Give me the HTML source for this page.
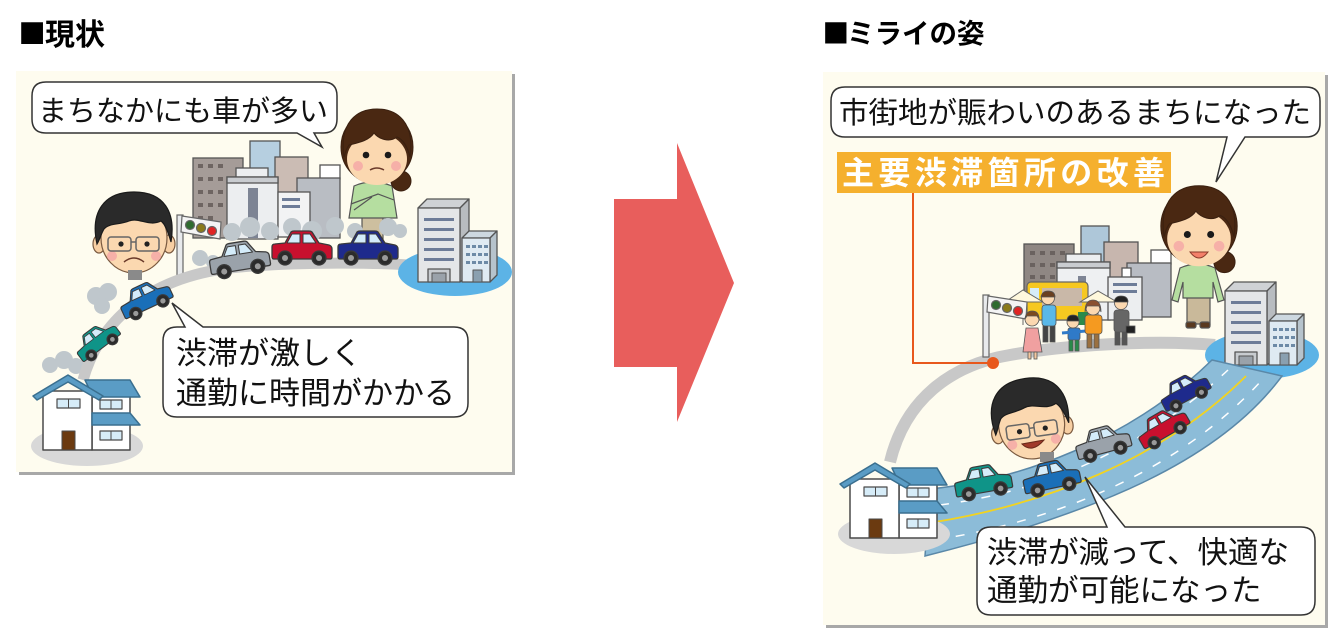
<!DOCTYPE html>
<html><head><meta charset="utf-8">
<style>
html,body{margin:0;padding:0;background:#fff;}
svg{display:block;}
text{font-family:"Liberation Sans","Noto Sans CJK JP",sans-serif;}
</style></head><body>
<svg width="1331" height="631" viewBox="0 0 1331 631" xmlns="http://www.w3.org/2000/svg" xmlns:xlink="http://www.w3.org/1999/xlink">
<defs>
 <g id="car" stroke="#3a3a3a" stroke-width="1.3" stroke-linejoin="round">
  <path d="M3,14 L13,13 L19,2 Q20,1 22,1 L37,1 Q39,1 40,2 L47,13 L57,15 Q60,16 60,19 L60,27 Q60,29 58,29 L2,29 Q0,29 0,27 L0,17 Q0,14 3,14 Z"/>
  <path d="M15,13 L20,4 L28,4 L28,13 Z M31,4 L38,4 L44,13 L31,13 Z" fill="#d4ecfa" stroke-width="1"/>
  <circle cx="13" cy="28" r="7" fill="#2b2b2b"/><circle cx="13" cy="28" r="3" fill="#9a9a9a" stroke="none"/>
  <circle cx="47" cy="28" r="7" fill="#2b2b2b"/><circle cx="47" cy="28" r="3" fill="#9a9a9a" stroke="none"/>
 </g>
 <g id="house" stroke="#4a4a4a" stroke-width="1.5" stroke-linejoin="round">
  <ellipse cx="54" cy="70" rx="56" ry="20" fill="#d8d8d8" stroke="none"/>
  <rect x="59" y="20" width="38" height="54" fill="#fff"/>
  <rect x="10" y="15" width="49" height="59" fill="#fff"/>
  <polygon points="52,4 97,4 107,21 60,21" fill="#5a9cc5" stroke="#3a6f8f"/>
  <polygon points="0,20 35,-1 70,20 66,24 35,6 4,24" fill="#5a9cc5" stroke="#3a6f8f"/>
  <polygon points="59,37 97,37 107,49 59,49" fill="#5a9cc5" stroke="#3a6f8f"/>
  <rect x="24" y="23" width="23" height="9" fill="#d6ecf8" stroke-width="1.2"/>
  <line x1="35.5" y1="23" x2="35.5" y2="32" stroke-width="1"/>
  <rect x="67" y="24" width="22" height="9" fill="#d6ecf8" stroke-width="1.2"/>
  <line x1="78" y1="24" x2="78" y2="33" stroke-width="1"/>
  <rect x="67" y="55" width="22" height="9" fill="#d6ecf8" stroke-width="1.2"/>
  <line x1="78" y1="55" x2="78" y2="64" stroke-width="1"/>
  <rect x="29" y="55" width="13" height="19" fill="#6b3a10" stroke-width="1"/>
 </g>
 <g id="bldg" stroke="#555" stroke-width="1.3" stroke-linejoin="round">
  <ellipse cx="37" cy="74" rx="57" ry="24" fill="#5cb3e6" stroke="none"/>
  <polygon points="0,10 9,1 51,1 42,10" fill="#cfd2d5"/>
  <polygon points="42,10 51,1 51,76 42,84" fill="#b8bcc0"/>
  <rect x="0" y="10" width="42" height="74" fill="#e4e6e8"/>
  <g fill="#6d7c98" stroke="none">
   <rect x="6" y="20" width="30" height="3"/><rect x="6" y="30" width="30" height="3"/>
   <rect x="6" y="40" width="30" height="3"/><rect x="6" y="50" width="30" height="3"/>
   <rect x="6" y="60" width="30" height="3"/>
  </g>
  <rect x="10" y="71" width="22" height="13" fill="#c8ccd0"/>
  <rect x="14" y="75" width="14" height="9" fill="#9aa2aa" stroke-width="1"/>
  <polygon points="44,40 51,33 79,33 72,40" fill="#cdd8e0"/>
  <polygon points="72,40 79,33 79,77 72,84" fill="#b6c3cc"/>
  <rect x="44" y="40" width="28" height="44" fill="#dfeaf2"/>
  <g fill="#6d8aa6" stroke="none">
   <rect x="48" y="47" width="4" height="3"/><rect x="54" y="47" width="4" height="3"/><rect x="60" y="47" width="4" height="3"/><rect x="66" y="47" width="4" height="3"/>
   <rect x="48" y="55" width="4" height="3"/><rect x="54" y="55" width="4" height="3"/><rect x="60" y="55" width="4" height="3"/><rect x="66" y="55" width="4" height="3"/>
   <rect x="48" y="63" width="4" height="3"/><rect x="54" y="63" width="4" height="3"/><rect x="60" y="63" width="4" height="3"/><rect x="66" y="63" width="4" height="3"/>
  </g>
  <rect x="55" y="72" width="9" height="12" fill="#8aa0b0" stroke-width="1"/>
 </g>
 <g id="tl" stroke="#666" stroke-width="1.2">
  <rect x="0" y="0" width="6" height="62" fill="#e8eaec"/>
  <polygon points="5,1 44,7 43,24 4,17" fill="#f4f4f4"/>
  <circle cx="13" cy="10" r="4.5" fill="#2f6b2f"/>
  <circle cx="24" cy="13" r="4.5" fill="#8a7a1a"/>
  <circle cx="35" cy="16" r="4.5" fill="#e02424"/>
 </g>
 <g id="manhead" stroke="#7a5a40" stroke-width="1.2">
  <ellipse cx="-35" cy="10" rx="6" ry="9" fill="#f7cfa3"/>
  <ellipse cx="35" cy="10" rx="6" ry="9" fill="#f7cfa3"/>
  <ellipse cx="0" cy="4" rx="33" ry="35" fill="#fbd8b0"/>
  <path d="M-37,10 C-44,-22 -30,-42 0,-42 C30,-42 42,-22 37,8 C34,-3 31,-10 27,-13 C15,-7 5,-17 -5,-13 C-15,-9 -25,-11 -30,-5 C-33,0 -34,5 -37,10 Z" fill="#2a2a2a" stroke="#1a1a1a"/>
  <circle cx="-22" cy="22" r="5" fill="#f6b0a8" stroke="none"/>
  <circle cx="22" cy="22" r="5" fill="#f6b0a8" stroke="none"/>
  <rect x="-26" y="3" width="23" height="14" rx="3" fill="none" stroke="#666" stroke-width="1.5"/>
  <rect x="2" y="3" width="23" height="14" rx="3" fill="none" stroke="#666" stroke-width="1.5"/>
  <line x1="-3" y1="8" x2="2" y2="8" stroke="#666" stroke-width="1.5"/>
  <circle cx="-13" cy="10" r="2.6" fill="#222" stroke="none"/>
  <circle cx="13" cy="10" r="2.6" fill="#222" stroke="none"/>
 </g>
 <g id="womanhead" stroke="#3a2010" stroke-width="1">
  <circle cx="24" cy="34" r="10" fill="#4a2812"/>
  <ellipse cx="0" cy="0" rx="36" ry="37" fill="#4a2812"/>
  <ellipse cx="0" cy="12" rx="30" ry="26" fill="#fbd8b0" stroke="none"/>
  <path d="M-33,10 C-38,-25 -20,-38 0,-38 C20,-38 38,-25 33,10 C30,-2 25,-8 20,-10 C12,-4 2,-8 -3,-14 C-8,-6 -20,-4 -28,-2 C-31,2 -32,6 -33,10 Z" fill="#4a2812"/>
  <circle cx="-11" cy="8" r="3.3" fill="#1a1a1a" stroke="none"/>
  <circle cx="11" cy="8" r="3.3" fill="#1a1a1a" stroke="none"/>
  <circle cx="-19" cy="19" r="5" fill="#f6b0a8" stroke="none"/>
  <circle cx="19" cy="19" r="5" fill="#f6b0a8" stroke="none"/>
 </g>
</defs>

<!-- Titles -->
<text x="18.5" y="46.5" font-size="45" font-weight="bold" fill="#000">■</text>
<text x="45" y="45" font-size="30" font-weight="bold" fill="#000">現状</text>
<text x="822.5" y="46" font-size="44" font-weight="bold" fill="#000">■</text>
<text x="847" y="43" font-size="27.5" font-weight="bold" fill="#000">ミライの姿</text>

<!-- ===== LEFT PANEL ===== -->
<rect x="19" y="74" width="496" height="401" fill="#a8a8a8"/>
<rect x="16" y="71" width="496" height="401" fill="#fefcef"/>

<!-- buildings cluster -->
<g stroke="#555" stroke-width="1.3">
 <rect x="250" y="141" width="30" height="60" fill="#b6cfe0"/>
 <rect x="275" y="157" width="33" height="50" fill="#cbbcb4"/>
 <rect x="193" y="158" width="50" height="80" fill="#a59c98"/>
 <rect x="320" y="165" width="20" height="14" fill="#fff"/>
 <rect x="297" y="178" width="43" height="60" fill="#b9bdc3"/>
 <rect x="236" y="168" width="32" height="10" fill="#eceef0"/>
 <rect x="227" y="177" width="51" height="62" fill="#eceef0"/>
 <rect x="227" y="177" width="51" height="6" fill="#c9ccd0"/>
 <rect x="278" y="192" width="32" height="45" fill="#f2f3f4"/>
</g>
<g fill="#6e6562">
 <rect x="198" y="164" width="5" height="4"/><rect x="208" y="164" width="5" height="4"/><rect x="218" y="164" width="5" height="4"/>
 <rect x="198" y="177" width="5" height="4"/><rect x="208" y="177" width="5" height="4"/><rect x="218" y="177" width="5" height="4"/>
 <rect x="198" y="190" width="5" height="4"/><rect x="208" y="190" width="5" height="4"/><rect x="218" y="190" width="5" height="4"/>
 <rect x="198" y="203" width="5" height="4"/><rect x="208" y="203" width="5" height="4"/><rect x="218" y="203" width="5" height="4"/>
 <rect x="198" y="216" width="5" height="4"/><rect x="208" y="216" width="5" height="4"/>
</g>
<rect x="248" y="188" width="10" height="50" fill="#7d8494"/>
<rect x="282" y="198" width="18" height="3" fill="#6d7c98"/>
<rect x="282" y="205" width="18" height="3" fill="#6d7c98"/>

<!-- woman left -->
<g stroke="#555" stroke-width="1.2">
 <rect x="362" y="214" width="21" height="28" fill="#cdbf9f"/>
 <path d="M354,186 Q372,178 392,186 L397,218 L349,218 Z" fill="#b5dea0"/>
 <path d="M351,204 L378,194 L394,200 M354,210 L372,197" fill="none"/>
</g>
<use href="#womanhead" transform="translate(377,147)"/>
<path d="M370,170 Q377,166 384,170" stroke="#6a3a2a" stroke-width="1.5" fill="none"/>

<!-- smoke -->
<g fill="#bfc7cc">
 <circle cx="232" cy="232" r="9"/><circle cx="250" cy="227" r="10"/><circle cx="270" cy="231" r="9"/>
 <circle cx="292" cy="227" r="9"/><circle cx="312" cy="231" r="10"/><circle cx="335" cy="226" r="9"/>
 <circle cx="355" cy="231" r="8"/><circle cx="388" cy="227" r="9"/><circle cx="400" cy="231" r="7"/>
 <circle cx="200" cy="258" r="8"/><circle cx="213" cy="262" r="7"/>
 <circle cx="96" cy="296" r="9"/><circle cx="108" cy="292" r="9"/><circle cx="102" cy="306" r="8"/>
 <circle cx="50" cy="365" r="8"/><circle cx="64" cy="360" r="9"/><circle cx="76" cy="366" r="8"/>
</g>

<!-- traffic light -->
<use href="#tl" transform="translate(177,215)"/>

<!-- road -->
<path d="M83,380 C100,320 150,275 240,267 C300,262 380,262 420,266" fill="none" stroke="#c8c8c8" stroke-width="11"/>

<!-- right buildings + ellipse -->
<use href="#bldg" transform="translate(418,198)"/>

<!-- cars -->
<use href="#car" fill="#9aa2aa" transform="translate(207,246) rotate(-9)"/>
<use href="#car" fill="#c8102e" transform="translate(272,230)"/>
<use href="#car" fill="#1e2a8c" transform="translate(338,230)"/>

<!-- man left -->
<use href="#manhead" transform="translate(134,234)"/>
<path d="M124,262 Q134,254 144,262" stroke="#6a3a2a" stroke-width="1.5" fill="none"/>
<rect x="128" y="270" width="14" height="10" fill="#8a8a8a"/>
<use href="#car" fill="#1a6fb8" transform="translate(115,296) rotate(-25) scale(0.88)"/>
<use href="#car" fill="#0f9488" transform="translate(70,344) rotate(-37) scale(0.78)"/>

<!-- house -->
<use href="#house" transform="translate(33,376)"/>

<!-- bubbles left -->
<path d="M46,82 H323 Q337,82 337,96 V119 Q337,133 323,133 H314 L322,147 L297,133 H46 Q32,133 32,119 V96 Q32,82 46,82 Z" fill="#fff" stroke="#333" stroke-width="1.5"/>
<text x="38" y="121" font-size="29" fill="#111">まちなかにも車が多い</text>
<path d="M177,327 H185 L172,303 L203,327 H454 Q468,327 468,341 V403 Q468,417 454,417 H177 Q163,417 163,403 V341 Q163,327 177,327 Z" fill="#fff" stroke="#333" stroke-width="1.5"/>
<text x="176" y="364" font-size="31" fill="#111">渋滞が激しく</text>
<text x="176" y="404" font-size="31" fill="#111">通勤に時間がかかる</text>

<!-- ===== ARROW ===== -->
<polygon points="614,199 677,199 677,143 734,283 677,422 677,367 614,367" fill="#e85e5c"/>

<!-- ===== RIGHT PANEL ===== -->
<rect x="826" y="75" width="502" height="553" fill="#a8a8a8"/>
<rect x="823" y="72" width="502" height="553" fill="#fefcef"/>

<!-- buildings cluster -->
<g stroke="#555" stroke-width="1.3">
 <rect x="1081" y="226" width="28" height="45" fill="#aec7d9"/>
 <rect x="1104" y="242" width="34" height="50" fill="#c7b6ae"/>
 <rect x="1024" y="244" width="50" height="60" fill="#8f8783"/>
 <rect x="1151" y="250" width="20" height="14" fill="#fff"/>
 <rect x="1127" y="263" width="44" height="54" fill="#b8bcc3"/>
 <rect x="1066" y="254" width="35" height="9" fill="#eceef0"/>
 <rect x="1057" y="262" width="53" height="58" fill="#eef0f2"/>
 <rect x="1057" y="262" width="53" height="6" fill="#c9ccd0"/>
 <rect x="1122" y="268" width="9" height="10" fill="#fff"/>
 <rect x="1108" y="277" width="34" height="43" fill="#eceef0"/>
</g>
<g fill="#6a625f">
 <rect x="1030" y="251" width="5" height="4"/><rect x="1040" y="251" width="5" height="4"/><rect x="1050" y="251" width="5" height="4"/><rect x="1060" y="251" width="5" height="4"/>
 <rect x="1030" y="263" width="5" height="4"/><rect x="1040" y="263" width="5" height="4"/><rect x="1050" y="263" width="5" height="4"/>
 <rect x="1030" y="275" width="5" height="4"/><rect x="1040" y="275" width="5" height="4"/><rect x="1050" y="275" width="5" height="4"/>
</g>
<rect x="1113" y="283" width="24" height="3" fill="#6d7c98"/>
<rect x="1113" y="290" width="24" height="3" fill="#6d7c98"/>
<rect x="1078" y="276" width="8" height="30" fill="#7d8494"/>
<!-- bus -->
<rect x="1027" y="282" width="61" height="38" rx="4" fill="#f6c820" stroke="#666" stroke-width="1.2"/>
<rect x="1042" y="288" width="40" height="18" fill="#c9b8a8"/>
<rect x="1030" y="288" width="9" height="14" fill="#d6ecf8"/>

<!-- woman right -->
<g stroke="#555" stroke-width="1.2">
 <rect x="1187" y="294" width="23" height="30" fill="#c9b99a"/>
 <rect x="1186" y="322" width="10" height="6" rx="2" fill="#5a3a20"/>
 <rect x="1200" y="322" width="10" height="6" rx="2" fill="#5a3a20"/>
 <path d="M1180,268 Q1198,260 1215,268 L1224,300 L1218,302 L1213,282 L1213,298 L1183,298 L1183,282 L1178,302 L1172,300 Z" fill="#b5dea0"/>
</g>
<use href="#womanhead" transform="translate(1199,226) scale(1.06)"/>
<path d="M1190,252 Q1199,264 1208,252 Z" fill="#f4806a" stroke="#8a3a2a" stroke-width="1"/>

<!-- umbrellas -->
<g stroke="#666" stroke-width="1">
 <line x1="1023" y1="290" x2="1023" y2="325"/>
 <polygon points="1005,302 1023,290 1043,302" fill="#fff8dc"/>
 <line x1="1098" y1="291" x2="1098" y2="318"/>
 <polygon points="1080,302 1098,291 1117,302" fill="#fff8dc"/>
</g>
<rect x="1078" y="312" width="10" height="13" fill="#2a8a4a"/>

<!-- gray road -->
<path d="M890,462 C905,400 950,365 1010,355 C1060,346 1150,339 1215,345" fill="none" stroke="#c8c8c8" stroke-width="12"/>

<!-- traffic light -->
<use href="#tl" transform="translate(983,295)"/>

<!-- people -->
<g stroke="#555" stroke-width="0.8">
 <path d="M1026,328 L1038,328 L1042,352 L1023,352 Z" fill="#f0a0a0"/>
 <rect x="1028" y="352" width="3" height="7" fill="#f4c8a0"/><rect x="1034" y="352" width="3" height="7" fill="#f4c8a0"/>
 <circle cx="1032" cy="319" r="7" fill="#fbd8b0"/>
 <path d="M1025,319 Q1026,311 1032,311 Q1039,311 1039,319 L1037,316 L1027,316 Z" fill="#7a4a20"/>
 <rect x="1043" y="325" width="5" height="17" fill="#444"/><rect x="1050" y="325" width="5" height="17" fill="#444"/>
 <rect x="1042" y="305" width="14" height="21" rx="3" fill="#5ab8e8"/>
 <circle cx="1048" cy="298" r="6.5" fill="#fbd8b0"/>
 <path d="M1041,297 Q1042,291 1048,291 Q1055,291 1055,297 Z" fill="#6a4020"/>
 <rect x="1069" y="339" width="4" height="12" fill="#2a8a4a"/><rect x="1075" y="339" width="4" height="12" fill="#2a8a4a"/>
 <rect x="1068" y="328" width="12" height="12" rx="2" fill="#2f7ac8"/>
 <line x1="1062" y1="333" x2="1086" y2="331" stroke="#2f7ac8" stroke-width="3"/>
 <circle cx="1073" cy="322" r="6" fill="#fbd8b0"/>
 <path d="M1067,321 Q1067,315 1073,315 Q1079,315 1079,321 Z" fill="#222"/>
 <rect x="1087" y="332" width="5" height="16" fill="#9a7040"/><rect x="1094" y="332" width="5" height="16" fill="#9a7040"/>
 <rect x="1085" y="315" width="17" height="19" rx="3" fill="#f59a20"/>
 <circle cx="1093" cy="308" r="7" fill="#fbd8b0"/>
 <path d="M1085,312 Q1085,300 1093,300 Q1101,300 1101,312 L1099,306 L1087,306 Z" fill="#8a5030"/>
 <rect x="1115" y="330" width="5" height="15" fill="#555"/><rect x="1122" y="330" width="5" height="15" fill="#555"/>
 <rect x="1114" y="310" width="15" height="22" rx="3" fill="#666"/>
 <rect x="1126" y="326" width="9" height="7" fill="#222"/>
 <circle cx="1121" cy="303" r="6.5" fill="#fbd8b0"/>
 <path d="M1114,302 Q1115,296 1121,296 Q1128,296 1128,302 Z" fill="#222"/>
</g>

<!-- right buildings + ellipse -->
<use href="#bldg" transform="translate(1225,281)"/>

<!-- blue road -->
<path d="M930,489 C1020,480 1130,440 1212,360 L1282,376 C1220,460 1100,512 925,556 Z" fill="#8cbcd8" stroke="#5a88a8" stroke-width="1.5"/>
<path d="M935,522 C1040,505 1160,462 1246,376" fill="none" stroke="#f2d320" stroke-width="1.8"/>
<path d="M940,505 C1040,492 1140,452 1228,370" fill="none" stroke="#fff" stroke-width="1.5" stroke-dasharray="9,12"/>
<path d="M935,540 C1060,520 1180,470 1262,380" fill="none" stroke="#fff" stroke-width="1.5" stroke-dasharray="9,12"/>

<!-- cars -->
<use href="#car" fill="#1e2a8c" transform="translate(1155,390) rotate(-28) scale(0.85)"/>
<use href="#car" fill="#c8102e" transform="translate(1132,427) rotate(-30) scale(0.88)"/>
<use href="#car" fill="#9aa2aa" transform="translate(1072,434) rotate(-15) scale(0.92)"/>
<use href="#manhead" transform="translate(1031,420) rotate(-8)"/>
<path d="M1022,444 Q1032,454 1044,440 Z" fill="#a03a2a" stroke="#6a2a1a" stroke-width="1"/>
<rect x="1040" y="452" width="14" height="10" fill="#8a8a8a"/>
<use href="#car" fill="#0f9488" transform="translate(952,470) rotate(-10) scale(0.95)"/>
<use href="#car" fill="#1a6fb8" transform="translate(1020,467) rotate(-12) scale(0.95)"/>

<!-- house -->
<use href="#house" transform="translate(840,464)"/>

<!-- orange connector -->
<polyline points="913,193 913,363 993,363" fill="none" stroke="#e8581c" stroke-width="2"/>
<circle cx="993" cy="363" r="6" fill="#e8581c"/>
<rect x="837" y="152" width="334" height="41" fill="#f5b02e"/>
<text x="842" y="184" font-size="32" font-weight="bold" fill="#fff" textLength="323" lengthAdjust="spacing">主要渋滞箇所の改善</text>

<!-- bubbles right -->
<path d="M845,87 H1306 Q1320,87 1320,101 V123 Q1320,137 1306,137 H1245 L1216,182 L1227,137 H845 Q831,137 831,123 V101 Q831,87 845,87 Z" fill="#fff" stroke="#333" stroke-width="1.5"/>
<text x="839" y="123" font-size="29.5" fill="#111">市街地が賑わいのあるまちになった</text>
<path d="M991,527 H1107 L1085,477 L1125,527 H1301 Q1315,527 1315,541 V601 Q1315,615 1301,615 H991 Q977,615 977,601 V541 Q977,527 991,527 Z" fill="#fff" stroke="#333" stroke-width="1.5"/>
<text x="987" y="563" font-size="30.5" fill="#111">渋滞が減って、快適な</text>
<text x="987" y="601" font-size="30.5" fill="#111">通勤が可能になった</text>
</svg>
</body></html>
